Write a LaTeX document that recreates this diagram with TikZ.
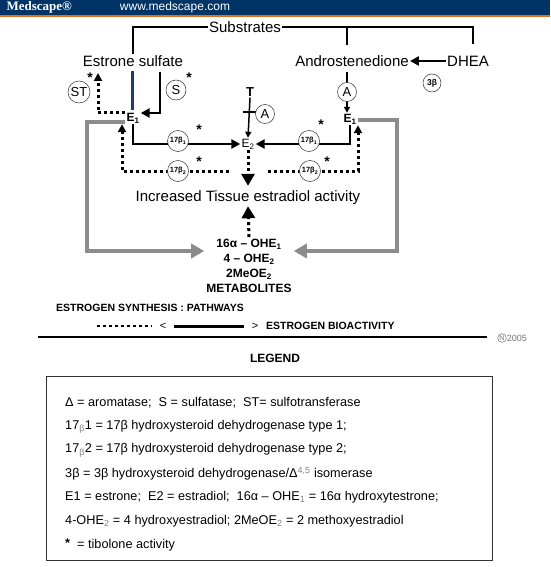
\documentclass[tikz,border=0pt]{standalone}
\usepackage{fontspec}
\setmainfont{Liberation Sans}
\newfontfamily\logofont{Liberation Serif}
\usetikzlibrary{arrows.meta}
\definecolor{medblue}{HTML}{003366}
\definecolor{medorange}{HTML}{E0701C}
\definecolor{pathgray}{HTML}{8C8C8C}
\definecolor{sulfnavy}{HTML}{1F3A6B}
\tikzset{
  lbl/.style={font=\fontsize{15}{18}\selectfont, inner sep=1pt},
  estr/.style={font=\bfseries\fontsize{12}{14}\selectfont, inner sep=1pt},
  enz/.style={circle, draw=black!80, line width=0.5pt, fill=white, inner sep=0pt,
    minimum size=20pt, font=\fontsize{13}{13}\selectfont},
  enzb/.style={enz, minimum size=21pt, font=\bfseries\fontsize{7.5}{8}\selectfont},
  tib/.style={font=\bfseries\fontsize{14}{14}\selectfont, inner sep=0pt},
  bar/.style={line width=2.5pt},
  solidarr/.style={line width=2.5pt, -{Triangle[length=9pt,width=9pt]}},
  thinarr/.style={line width=1.5pt, -{Triangle[length=6pt,width=6pt]}},
  dotarr/.style={line width=3pt, dash pattern=on 3pt off 3pt, -{Triangle[length=8pt,width=8pt]}},
  bigdot/.style={dotarr, -{Triangle[length=12pt,width=13pt]}},
  grayarr/.style={line width=4pt, draw=pathgray, -{Triangle[length=13pt,width=14pt,fill=pathgray]}},
  keytext/.style={anchor=west, font=\bfseries\fontsize{10.5}{12}\selectfont, inner sep=0pt},
  legline/.style={anchor=west, font=\fontsize{12.7}{15}\selectfont, inner sep=0pt},
}

\begin{document}
\begin{tikzpicture}[x=1pt, y=-1pt]
    \useasboundingbox (0,0) rectangle (550,567);

    % Banner
    \fill[medblue] (0,0) rectangle (550,15);
    \fill[medorange] (0,15) rectangle (550,17.5);
    \node[anchor=west, text=white, font=\logofont\bfseries\fontsize{13}{13}\selectfont] (logo) at (3,7.5) {Medscape®};
    \node[text=white, font=\fontsize{12}{12}\selectfont] (url) at (175,7.5) {www.medscape.com};

    % Substrates
    \node[lbl] (subs) at (245,27) {Substrates};
    \node[lbl] (esul) at (133,61) {Estrone sulfate};
    \node[lbl] (andro) at (352,61) {Androstenedione};
    \node[lbl] (dhea) at (468,61) {DHEA};
    \coordinate (dtop) at (473,44);
    \coordinate (atop) at (347,45);
    \coordinate (ajoin) at (347,28);
    \draw[bar] (esul.north) |- (subs.west);
    \draw[bar] (subs.east) -| (dtop);
    \draw[bar] (ajoin) -- (atop);
    \draw[solidarr] (dhea.west) -- (andro.east);
    \node[enzb, minimum size=18pt, font=\bfseries\fontsize{8.5}{9}\selectfont] (hsd3) at (432,83) {3β};

    % Estrone and estradiol
    \node[estr] (e1l) at (133,118) {E\textsubscript{1}};
    \node[estr] (e1r) at (350,119) {E\textsubscript{1}};
    \node[font=\fontsize{12}{14}\selectfont, inner sep=1pt] (e2) at (248,144) {E\textsubscript{2}};
    \node[estr, font=\bfseries\fontsize{13}{14}\selectfont] (T) at (250,92) {T};
    \node[lbl] (incr) at (248,198) {Increased Tissue estradiol activity};
    \node[align=center, font=\bfseries\fontsize{12}{15}\selectfont, inner sep=2pt] (metab) at (249,266)
        {16α – OHE\textsubscript{1}\\4 – OHE\textsubscript{2}\\2MeOE\textsubscript{2}\\METABOLITES};

    % Sulfate pool
    \draw[line width=3pt, draw=sulfnavy, shorten <=3pt, shorten >=2pt] ([xshift=-1pt]esul.south) -- ([xshift=-1pt]esul.south |- e1l.north);
    \coordinate (stop) at (160,72);
    \coordinate (sttop) at (98,73);
    \draw[solidarr] (stop) |- ([yshift=5pt]e1l.east);
    \draw[dotarr] ([yshift=5pt]e1l.west) -| (sttop);
    \node[enz, minimum size=22pt] (st) at (79,92) {ST};
    \node[enz] (sulf) at (176,90) {S};
    \node[tib] (tst) at (90,78) {*};
    \node[tib] (tsulf) at (189,78) {*};

    % Aromatase
    \coordinate (aend) at (347,72);
    \draw[thinarr, line width=2pt] (aend) -- (aend |- e1r.north);
    \node[enz, minimum size=19pt] (aro1) at (347,92) {A};
    \coordinate (tbar) at (250,112);
    \draw[thinarr] (T.south) -- (e2.north);
    \draw[line width=1.5pt] ([xshift=-7pt]tbar) -- ([xshift=7pt]tbar);
    \node[enz, minimum size=19pt] (aro2) at (265,114) {A};

    % 17beta hydroxysteroid dehydrogenases
    \coordinate (dl) at (229,171);
    \coordinate (dr) at (268,171);
    \draw[solidarr] (e1l.south) |- (e2.west);
    \draw[solidarr] (e1r.south) |- (e2.east);
    \draw[dotarr] (dl) -| ([xshift=-11pt]e1l.south);
    \draw[dotarr] (dr) -| ([xshift=8pt]e1r.south);
    \node[enzb] (hsd1l) at (178,141) {17β\textsubscript{1}};
    \node[enzb] (hsd2l) at (178,171) {17β\textsubscript{2}};
    \node[enzb] (hsd1r) at (309,141) {17β\textsubscript{1}};
    \node[enzb] (hsd2r) at (310,171) {17β\textsubscript{2}};
    \node[tib] (t1l) at (199,130) {*};
    \node[tib] (t2l) at (199,162) {*};
    \node[tib] (t1r) at (321,125) {*};
    \node[tib] (t2r) at (327,162) {*};

    % Activity and metabolites
    \draw[bigdot, shorten >=4pt] (e2.south) -- (incr.north);
    \draw[bigdot] (metab.north) -- (incr.south);
    \coordinate (gl) at (87,251);
    \coordinate (gr) at (397,251);
    \draw[grayarr] ([yshift=-4pt]e1l.west) -| (gl) -- (gl -| metab.west);
    \draw[grayarr] ([yshift=-1pt]e1r.east) -| (gr) -- (gr -| metab.east);

    % Pathway key
    \node[keytext] (synth) at (56,308) {ESTROGEN SYNTHESIS : PATHWAYS};
    \node[font=\fontsize{11}{12}\selectfont, inner sep=0pt] (lt) at (163,326) {<};
    \node[font=\fontsize{11}{12}\selectfont, inner sep=0pt] (gt) at (255,326) {>};
    \node[keytext] (bioact) at (266,326) {ESTROGEN BIOACTIVITY};
    \coordinate (dotstart) at (97,326);
    \draw[line width=2.5pt, dash pattern=on 3pt off 3pt] (dotstart) -- ([xshift=-8pt]lt.west);
    \draw[line width=3pt, shorten <=8pt, shorten >=8pt] (lt.east) -- (gt.west);
    \coordinate (rulel) at (38,337);
    \coordinate (ruler) at (487,337);
    \draw[line width=1.6pt] (rulel) -- (ruler);
    \node[circle, draw=black!55, line width=0.5pt, inner sep=0.6pt, text=black!55,
        font=\fontsize{7}{7}\selectfont] (nmark) at (502,338) {N};
    \node[anchor=west, text=black!55, font=\fontsize{9}{10}\selectfont, inner sep=0pt] (copy) at (nmark.east) {2005};

    % Legend
    \node[font=\bfseries\fontsize{12}{14}\selectfont] (legtitle) at (275,358) {LEGEND};
    \draw[line width=0.8pt, draw=black!80] (46,376) rectangle (492,560);
    \foreach \txt [count=\i] in {
        {Δ = aromatase;\ \ S = sulfatase;\ \ ST= sulfotransferase},
        {17\textsubscript{\textcolor{gray}{β}}1 = 17β hydroxysteroid dehydrogenase type 1;},
        {17\textsubscript{\textcolor{gray}{β}}2 = 17β hydroxysteroid dehydrogenase type 2;},
        {3β = 3β hydroxysteroid dehydrogenase/Δ\textsuperscript{\textcolor{gray}{4,5}} isomerase},
        {E1 = estrone;\ \ E2 = estradiol;\ \ 16α – OHE\textsubscript{\textcolor{gray}{1}} = 16α hydroxytestrone;},
        {4-OHE\textsubscript{\textcolor{gray}{2}} = 4 hydroxyestradiol; 2MeOE\textsubscript{\textcolor{gray}{2}} = 2 methoxyestradiol},
        {\raisebox{1pt}{\textbf{*}}\ \ = tibolone activity}}
        \node[legline] (leg\i) at (65,{403+23.6*(\i-1)}) {\txt};
\end{tikzpicture}
\end{document}
